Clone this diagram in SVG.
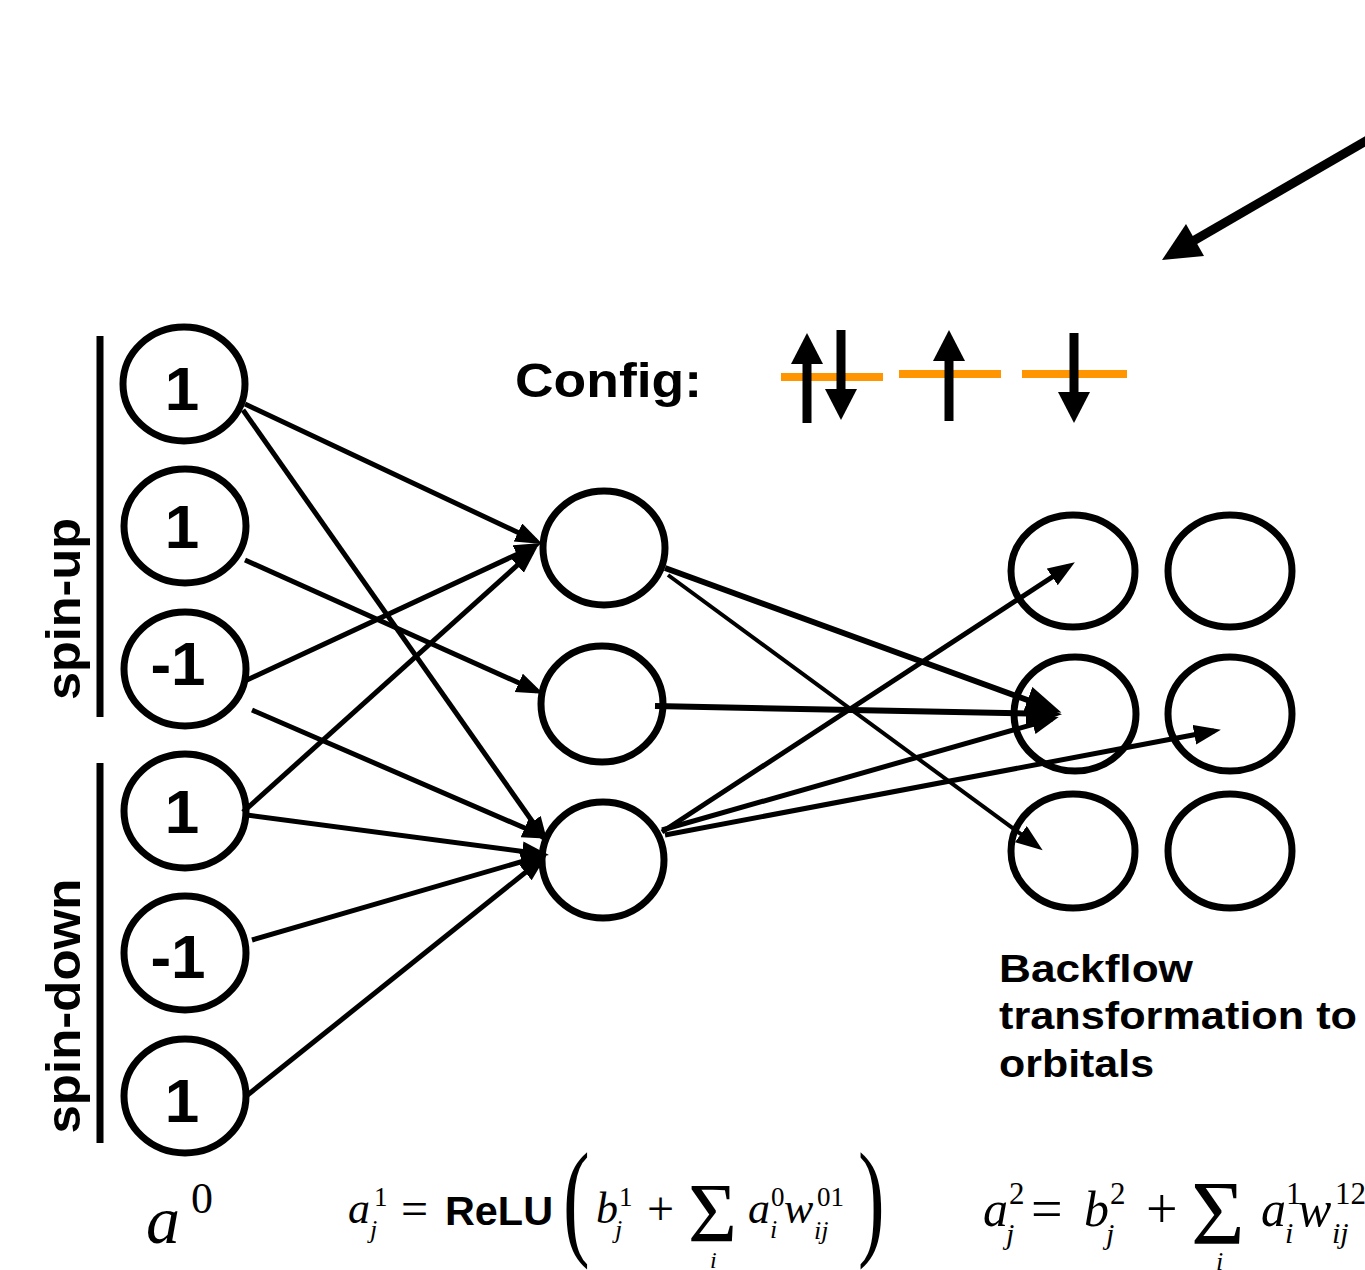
<svg xmlns="http://www.w3.org/2000/svg" width="1365" height="1270" viewBox="0 0 1365 1270">
  <style>
    .node { fill: none; stroke: #000; stroke-width: 7; }
    .lbl { font-family: "Liberation Sans", Arial, sans-serif; font-weight: bold; font-size: 62px; fill: #000; text-anchor: middle; }
    .side { font-family: "Liberation Sans", Arial, sans-serif; font-weight: bold; font-size: 49px; fill: #000; text-anchor: middle; }
    .bar { stroke: #000; stroke-width: 7; }
    .edge { stroke: #000; stroke-width: 5; fill: none; marker-end: url(#ah); }
    .thick { stroke-width: 6; marker-end: url(#ahL); }
    .thin { stroke-width: 4; }
    .sans { font-family: "Liberation Sans", Arial, sans-serif; font-weight: bold; fill: #000; }
    .m { font-family: "Liberation Serif", "Times New Roman", serif; fill: #000; }
    .it { font-style: italic; }
    .orb { stroke: #ff9500; stroke-width: 8; }
    .spin { stroke: #000; stroke-width: 9; }
  </style>
  <defs>
    <marker id="ah" markerUnits="userSpaceOnUse" markerWidth="30" markerHeight="24" refX="20" refY="10" orient="auto">
      <path d="M0,0 L27,10 L0,20 z" fill="#000"/>
    </marker>
    <marker id="ahL" markerUnits="userSpaceOnUse" markerWidth="40" markerHeight="32" refX="26" refY="14" orient="auto">
      <path d="M0,0 L36,14 L0,28 z" fill="#000"/>
    </marker>
  </defs>

  <!-- pointer arrow, upper right -->
  <g id="pointer">
    <line x1="1378" y1="134" x2="1188" y2="244" stroke="#000" stroke-width="9"/>
    <polygon points="1162,260 1186,224 1204,256" fill="#000"/>
  </g>

  <!-- group brackets and labels -->
  <g id="spin-up">
    <line class="bar" x1="100" y1="336" x2="100" y2="717"/>
    <text class="side" transform="translate(80,609) rotate(-90)" x="0" y="0" textLength="182" lengthAdjust="spacingAndGlyphs">spin-up</text>
  </g>
  <g id="spin-down">
    <line class="bar" x1="100" y1="763" x2="100" y2="1143"/>
    <text class="side" transform="translate(80,1006) rotate(-90)" x="0" y="0" textLength="255" lengthAdjust="spacingAndGlyphs">spin-down</text>
  </g>

  <!-- input layer a^0 -->
  <g id="in1"><ellipse class="node" cx="184" cy="384" rx="61" ry="57"/><text class="lbl" x="182" y="410">1</text></g>
  <g id="in2"><ellipse class="node" cx="185" cy="526" rx="61" ry="57"/><text class="lbl" x="182" y="548">1</text></g>
  <g id="in3"><ellipse class="node" cx="185" cy="669" rx="61" ry="57"/><text class="lbl" x="178" y="685">-1</text></g>
  <g id="in4"><ellipse class="node" cx="185" cy="811" rx="61" ry="57"/><text class="lbl" x="182" y="833">1</text></g>
  <g id="in5"><ellipse class="node" cx="185" cy="953" rx="61" ry="57"/><text class="lbl" x="178" y="978">-1</text></g>
  <g id="in6"><ellipse class="node" cx="185" cy="1096" rx="61" ry="57"/><text class="lbl" x="182" y="1122">1</text></g>

  <!-- hidden layer -->
  <g id="h1"><ellipse class="node" cx="604" cy="548" rx="61" ry="57"/></g>
  <g id="h2"><ellipse class="node" cx="602" cy="704" rx="61" ry="58"/></g>
  <g id="h3"><ellipse class="node" cx="603" cy="860" rx="61" ry="58"/></g>

  <!-- orbital grid -->
  <g id="o11"><ellipse class="node" cx="1073" cy="571" rx="62" ry="56"/></g>
  <g id="o21"><ellipse class="node" cx="1075" cy="714" rx="61" ry="57"/></g>
  <g id="o31"><ellipse class="node" cx="1073" cy="851" rx="62" ry="57"/></g>
  <g id="o12"><ellipse class="node" cx="1230" cy="571" rx="62" ry="56"/></g>
  <g id="o22"><ellipse class="node" cx="1230" cy="714" rx="62" ry="57"/></g>
  <g id="o32"><ellipse class="node" cx="1230" cy="851" rx="62" ry="57"/></g>

  <!-- connectors, drawn over the rings so heads sit inside them -->
  <g id="connectors">
    <!-- input layer to hidden layer -->
    <line class="edge" x1="245" y1="404" x2="536" y2="541"/>
    <line class="edge" x1="243" y1="410" x2="544" y2="838"/>
    <line class="edge" x1="245" y1="560" x2="537" y2="691"/>
    <line class="edge" x1="247" y1="680" x2="535" y2="546"/>
    <line class="edge" x1="252" y1="710" x2="543" y2="836"/>
    <line class="edge" x1="243" y1="812" x2="532" y2="552"/>
    <line class="edge" x1="247" y1="815" x2="542" y2="854"/>
    <line class="edge" x1="252" y1="940" x2="541" y2="856"/>
    <line class="edge" x1="245" y1="1097" x2="541" y2="860"/>
    <!-- hidden layer to orbitals -->
    <line class="edge thick" x1="665" y1="568" x2="1052" y2="709"/>
    <line class="edge thin" x1="668" y1="575" x2="1037" y2="846"/>
    <line class="edge thick" x1="655" y1="706" x2="1052" y2="714"/>
    <line class="edge" x1="662" y1="832" x2="1069" y2="566"/>
    <line class="edge" x1="662" y1="830" x2="1052" y2="719"/>
    <line class="edge" x1="665" y1="835" x2="1214" y2="731"/>
  </g>

  <!-- occupation configuration -->
  <g id="config">
    <text class="sans" x="515" y="397" font-size="48" textLength="187" lengthAdjust="spacingAndGlyphs">Config:</text>
    <line class="orb" x1="781" y1="377" x2="883" y2="377"/>
    <line class="spin" x1="807" y1="360" x2="807" y2="423"/>
    <polygon points="807,333 791,364 823,364" fill="#000"/>
    <line class="spin" x1="841" y1="330" x2="841" y2="393"/>
    <polygon points="841,420 825,389 857,389" fill="#000"/>
    <line class="orb" x1="899" y1="374" x2="1001" y2="374"/>
    <line class="spin" x1="949" y1="357" x2="949" y2="421"/>
    <polygon points="949,330 933,361 965,361" fill="#000"/>
    <line class="orb" x1="1022" y1="374" x2="1127" y2="374"/>
    <line class="spin" x1="1074" y1="333" x2="1074" y2="396"/>
    <polygon points="1074,423 1058,392 1090,392" fill="#000"/>
  </g>

  <!-- caption for the orbital grid -->
  <g id="backflow-label">
    <text class="sans" x="999" y="982" font-size="38" textLength="194" lengthAdjust="spacingAndGlyphs">Backflow</text>
    <text class="sans" x="999" y="1029" font-size="38" textLength="358" lengthAdjust="spacingAndGlyphs">transformation to</text>
    <text class="sans" x="999" y="1077" font-size="38" textLength="155" lengthAdjust="spacingAndGlyphs">orbitals</text>
  </g>

  <!-- layer formulas -->
  <g id="eq-a0">
    <text class="m it" x="146" y="1243" font-size="68">a</text>
    <text class="m" x="191" y="1213" font-size="44">0</text>
  </g>

  <g id="eq-layer1">
    <text class="m it" x="348" y="1223" font-size="44">a</text>
    <text class="m it" x="370" y="1238" font-size="26">j</text>
    <text class="m" x="374" y="1206" font-size="27">1</text>
    <text class="m" x="401" y="1225" font-size="48">=</text>
    <text class="sans" x="445" y="1225" font-size="40" textLength="108" lengthAdjust="spacingAndGlyphs">ReLU</text>
    <text class="m" transform="translate(563,1242) scale(1,1.62)" x="0" y="0" font-size="80">(</text>
    <text class="m it" x="596" y="1223" font-size="44">b</text>
    <text class="m it" x="615" y="1238" font-size="26">j</text>
    <text class="m" x="619" y="1206" font-size="27">1</text>
    <text class="m" x="647" y="1225" font-size="48">+</text>
    <text class="m" x="688" y="1242" font-size="84">Σ</text>
    <text class="m it" x="710" y="1268" font-size="24">i</text>
    <text class="m it" x="748" y="1223" font-size="44">a</text>
    <text class="m it" x="770" y="1238" font-size="26">i</text>
    <text class="m" x="771" y="1206" font-size="27">0</text>
    <text class="m it" x="784" y="1223" font-size="44">w</text>
    <text class="m it" x="814" y="1239" font-size="26">ij</text>
    <text class="m" x="817" y="1206" font-size="27">01</text>
    <text class="m" transform="translate(858,1242) scale(1,1.62)" x="0" y="0" font-size="80">)</text>
  </g>

  <g id="eq-layer2">
    <text class="m it" x="983" y="1226" font-size="50">a</text>
    <text class="m it" x="1006" y="1244" font-size="30">j</text>
    <text class="m" x="1009" y="1204" font-size="31">2</text>
    <text class="m" x="1031" y="1228" font-size="56">=</text>
    <text class="m it" x="1084" y="1226" font-size="50">b</text>
    <text class="m it" x="1106" y="1244" font-size="30">j</text>
    <text class="m" x="1110" y="1204" font-size="31">2</text>
    <text class="m" x="1146" y="1228" font-size="56">+</text>
    <text class="m" x="1191" y="1244" font-size="92">Σ</text>
    <text class="m it" x="1216" y="1270" font-size="26">i</text>
    <text class="m it" x="1261" y="1226" font-size="50">a</text>
    <text class="m it" x="1285" y="1243" font-size="30">i</text>
    <text class="m" x="1286" y="1204" font-size="31">1</text>
    <text class="m it" x="1298" y="1226" font-size="50">w</text>
    <text class="m it" x="1332" y="1243" font-size="30">ij</text>
    <text class="m" x="1335" y="1204" font-size="31">12</text>
  </g>
</svg>
